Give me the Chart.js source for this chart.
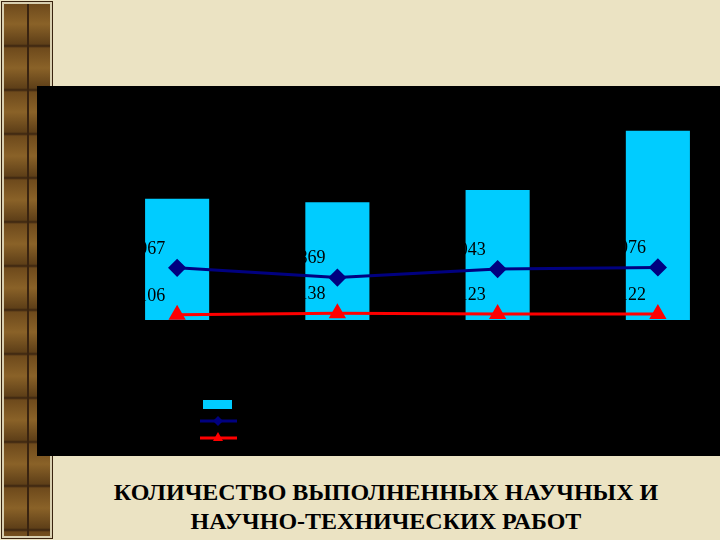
<!DOCTYPE html>
<html>
<head>
<meta charset="utf-8">
<script src="https://cdn.jsdelivr.net/npm/chart.js@4"></script>
<style>
  html, body { margin: 0; padding: 0; }
  body { width: 720px; height: 540px; overflow: hidden; position: relative;
         background: #ebe3c3; font-family: "Liberation Serif", "DejaVu Serif", serif; }
  #strip { position: absolute; left: 2px; top: 2px; width: 50px; height: 536px;
           background: repeating-linear-gradient(180deg, #6e4a1c 0px, #8a6228 20px, #5e3f18 40px, #3a2410 42px, #6e4a1c 44px);
           border: 2px solid #d8cfb0; outline: 1px solid #3a2410; box-sizing: border-box; }
  #strip:after { content: ""; position: absolute; left: 23px; top: 0; width: 2px; height: 100%; background: #3a2410; }
  #box { position: absolute; left: 37px; top: 86px; width: 683px; height: 370px; background: #000; overflow: visible; }
  #box canvas { position: absolute; left: 0; top: 0; }
  #title { position: absolute; left: 52px; width: 668px; top: 478px; text-align: center;
           font-weight: bold; font-size: 24px; line-height: 29px; color: #000; }
</style>
</head>
<body>
<div id="strip"></div>
<div id="box"><canvas id="myChart" width="720" height="370" style="width:720px;height:370px"></canvas></div>
<div id="title">КОЛИЧЕСТВО ВЫПОЛНЕННЫХ НАУЧНЫХ И<br>НАУЧНО-ТЕХНИЧЕСКИХ РАБОТ</div>
<script>
// values (bar labels are black on black, bar heights estimated)
const years = ["1", "2", "3", "4"];
const totalWorks = [2480, 2410, 2660, 3870];
const blueSeries = [1067, 869, 1043, 1076];
const redSeries = [106, 138, 123, 122];

// labels are black, so only the part over the cyan bars shows
const labelColor = "#000000";

// value labels left-above the line points
const pointLabels = {
  id: "pointLabels",
  afterDatasetsDraw(chart) {
    const ctx = chart.ctx;
    ctx.save();
    ctx.font = "18px 'Liberation Serif'";
    ctx.fillStyle = labelColor;
    ctx.textAlign = "right";
    ctx.textBaseline = "middle";
    [1, 2].forEach((di) => {
      const meta = chart.getDatasetMeta(di);
      meta.data.forEach((pt, i) => {
        ctx.fillText(String(chart.data.datasets[di].data[i]), pt.x - 12, pt.y - 19);
      });
    });
    ctx.restore();
  },
};

// the legend of the slide: swatches only, the captions are lost in the black
const slideLegend = {
  id: "slideLegend",
  afterDraw(chart) {
    const ctx = chart.ctx;
    const ds = chart.data.datasets;
    ctx.save();
    ctx.fillStyle = ds[0].backgroundColor;
    ctx.fillRect(166, 314, 29, 9);

    ctx.lineWidth = 3;
    ctx.strokeStyle = ds[1].borderColor;
    ctx.beginPath();
    ctx.moveTo(163, 335);
    ctx.lineTo(200, 335);
    ctx.stroke();
    ctx.fillStyle = ds[1].borderColor;
    ctx.beginPath();
    ctx.moveTo(181, 330);
    ctx.lineTo(186, 335);
    ctx.lineTo(181, 340);
    ctx.lineTo(176, 335);
    ctx.closePath();
    ctx.fill();

    ctx.strokeStyle = ds[2].borderColor;
    ctx.beginPath();
    ctx.moveTo(163, 352);
    ctx.lineTo(200, 352);
    ctx.stroke();
    ctx.fillStyle = ds[2].borderColor;
    ctx.beginPath();
    ctx.moveTo(181, 346);
    ctx.lineTo(186, 355);
    ctx.lineTo(176, 355);
    ctx.closePath();
    ctx.fill();
    ctx.restore();
  },
};

new Chart("myChart", {
  type: "bar",
  data: {
    labels: years,
    datasets: [
      {
        type: "bar",
        data: totalWorks,
        backgroundColor: "#00ccff",
        borderWidth: 0,
        categoryPercentage: 0.8,
        barPercentage: 0.5,
        order: 3,
      },
      {
        type: "line",
        data: blueSeries,
        borderColor: "#000080",
        backgroundColor: "#000080",
        borderWidth: 3,
        pointStyle: "rectRot",
        pointRadius: 7,
        fill: false,
        tension: 0,
        order: 2,
      },
      {
        type: "line",
        data: redSeries,
        borderColor: "#ff0000",
        backgroundColor: "#ff0000",
        borderWidth: 3,
        pointStyle: "triangle",
        pointRadius: 7,
        fill: false,
        tension: 0,
        order: 1,
      },
    ],
  },
  options: {
    responsive: false,
    animation: false,
    layout: { padding: { left: 60, right: 19, top: 14, bottom: 136 } },
    plugins: {
      legend: { display: false },
      tooltip: { enabled: false },
    },
    scales: {
      x: { display: false, offset: true },
      y: { display: false, min: 0, max: 4500 },
    },
  },
  plugins: [pointLabels, slideLegend],
});
</script>
</body>
</html>
